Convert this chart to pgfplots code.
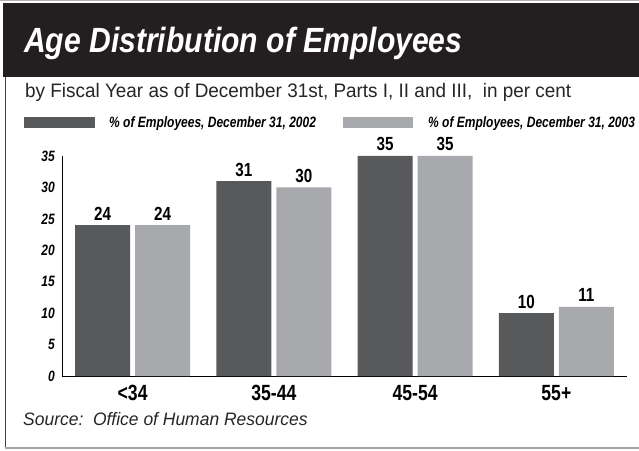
\documentclass[border=0pt]{standalone}
\usepackage{fontspec}
\setmainfont{Liberation Sans}[FakeStretch=0.8]
\newfontfamily\cond{Liberation Sans}[FakeStretch=0.8]
\newfontfamily\titlefont{Liberation Sans}[FakeStretch=0.86]
\newfontfamily\regfont{Liberation Sans}[FakeStretch=0.97]
\usepackage{pgfplots}
\pgfplotsset{compat=1.18}
\definecolor{darkbar}{HTML}{58595B}
\definecolor{lightbar}{HTML}{A7A9AC}
\definecolor{header}{HTML}{231F20}
\begin{document}
\begin{tikzpicture}[x=1pt,y=1pt]
\useasboundingbox (0,0) rectangle (639,450);
\fill[white] (0,0) rectangle (639,450);
\draw[gray!60, line width=1pt] (0,449.5) -- (639,449.5);
\fill[header] (3,373) rectangle (639,447);
\draw[black!75, line width=1pt] (5.5,2) -- (5.5,373);
\draw[gray!70, line width=1.5pt] (5,2) -- (639,2);
\node[anchor=base west, inner sep=0pt, text=white, font=\titlefont\bfseries\itshape\fontsize{35}{37}\selectfont] at (24,397) {Age Distribution of Employees};
\node[anchor=base west, inner sep=0pt, text=black!85, font=\regfont\fontsize{19.5}{22}\selectfont] at (25,352) {by Fiscal Year as of December 31st, Parts I, II and III,\ \ in per cent};
\fill[darkbar] (24,322) rectangle (95,333);
\node[anchor=base west, inner sep=0pt, font=\cond\bfseries\itshape\fontsize{15}{17}\selectfont] at (109,322.5) {\% of Employees, December 31, 2002};
\fill[lightbar] (343,322) rectangle (413,333);
\node[anchor=base west, inner sep=0pt, font=\cond\bfseries\itshape\fontsize{15}{17}\selectfont] at (428,322.5) {\% of Employees, December 31, 2003};
\node[anchor=base west, inner sep=0pt, text=black!85, font=\regfont\itshape\fontsize{18}{20}\selectfont] at (23,25) {Source:\ \ Office of Human Resources};
\begin{axis}[
  at={(62pt,74pt)}, anchor=south west,
  scale only axis, width=565pt, height=220pt,
  xmin=-0.5, xmax=3.5, ymin=0, ymax=35,
  ybar=5pt, bar width=55pt,
  axis x line*=bottom, axis y line*=left,
  axis line style={black, line width=0.8pt},
  major tick length=0pt,
  xtick={0,1,2,3}, xticklabels={<34,35-44,45-54,55+},
  ytick={0,5,...,35},
  /pgf/number format/assume math mode=true,
  xticklabel style={anchor=base, inner sep=0pt, yshift=-24pt, font=\cond\bfseries\fontsize{22}{23}\selectfont},
  yticklabel style={anchor=east, inner sep=0pt, xshift=-7pt, font=\cond\bfseries\itshape\fontsize{15}{16}\selectfont},
  nodes near coords,
  every node near coord/.append style={anchor=base, inner sep=0pt, yshift=5pt, font=\cond\bfseries\fontsize{19}{20}\selectfont, text=black},
  clip=false,
]
\addplot[fill=darkbar, draw=none] coordinates {(0,24) (1,31) (2,35) (3,10)};
\addplot[fill=lightbar, draw=none] coordinates {(0,24) (1,30) (2,35) (3,11)};
\end{axis}
\end{tikzpicture}
\end{document}
